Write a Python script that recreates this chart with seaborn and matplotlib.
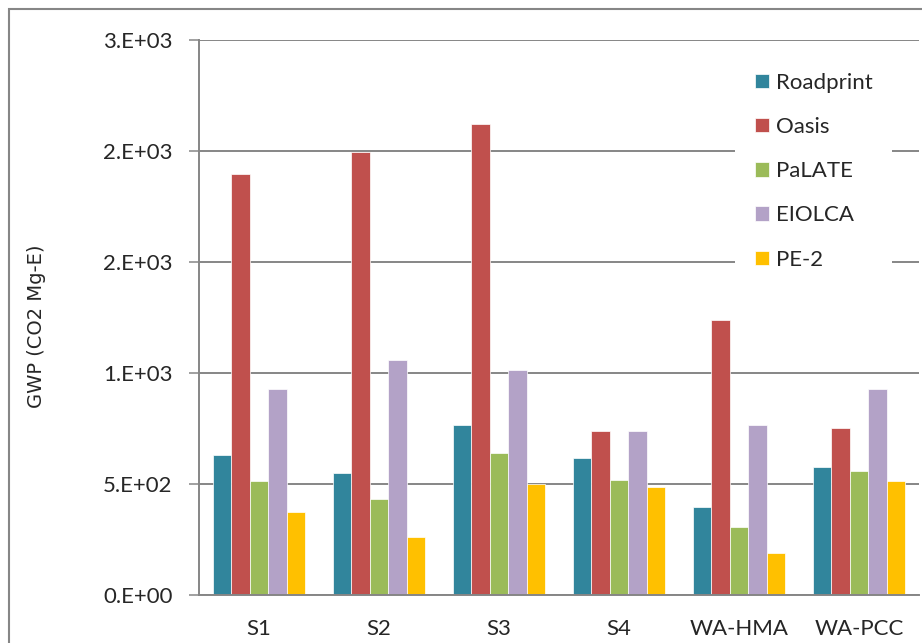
import pandas as pd
import seaborn as sns
import matplotlib
matplotlib.use("Agg")
import matplotlib.pyplot as plt
from matplotlib.patches import Rectangle

# scenarios on the x axis
scenarios = ["S1", "S2", "S3", "S4", "WA-HMA", "WA-PCC"]

# GWP per tool (CO2 Mg-E)
roadprint = [631, 550, 766, 617, 398, 577]
oasis = [1896, 1997, 2122, 737, 1240, 751]
palate = [514, 432, 638, 517, 306, 557]
eiolca = [928, 1059, 1012, 737, 764, 927]
pe2 = [374, 263, 500, 488, 189, 512]

tools = ["Roadprint", "Oasis", "PaLATE", "EIOLCA", "PE-2"]
tool_colors = ["#31859C", "#C0504D", "#9BBB59", "#B3A2C7", "#FFC000"]

ytick_values = [0, 500, 1000, 1500, 2000, 2500]
ytick_labels = ["0.E+00", "5.E+02", "1.E+03", "2.E+03", "2.E+03", "3.E+03"]

GRAY = "#868686"


def build_frame():
    rows = []
    for tool, values in zip(tools, [roadprint, oasis, palate, eiolca, pe2]):
        for sc, v in zip(scenarios, values):
            rows.append({"Scenario": sc, "Tool": tool, "GWP": v})
    return pd.DataFrame(rows)


def draw(df):
    sns.set_style("white")
    plt.rcParams["font.family"] = ["Lato", "DejaVu Sans"]

    fig = plt.figure(figsize=(9.22, 6.43), dpi=100)
    ax = fig.add_axes([199 / 922, 48 / 643, 720 / 922, 555 / 643])

    sns.barplot(data=df, x="Scenario", y="GWP", hue="Tool", order=scenarios,
                hue_order=tools, palette=tool_colors, saturation=1, width=0.77,
                edgecolor="white", linewidth=0.5, errorbar=None, ax=ax)

    ax.set_xlim(-0.5, len(scenarios) - 0.5)
    ax.set_ylim(0, 2500)
    ax.set_yticks(ytick_values)
    ax.set_yticklabels(ytick_labels)
    ax.yaxis.grid(True, color=GRAY, linewidth=1.4)
    ax.set_axisbelow(True)

    for side in ["top", "right"]:
        ax.spines[side].set_visible(False)
    for side in ["left", "bottom"]:
        ax.spines[side].set_color(GRAY)
        ax.spines[side].set_linewidth(1.4)

    ax.tick_params(axis="y", length=7, width=1.1, color=GRAY, pad=12,
                   labelsize=16, left=True)
    ax.tick_params(axis="x", length=0, pad=17, labelsize=16)

    ax.set_xlabel("")
    ax.set_ylabel("GWP (CO2 Mg-E)", fontsize=14, family="DejaVu Sans")
    ax.yaxis.set_label_coords(-0.212, 0.485)

    leg = ax.legend(loc="upper left", bbox_to_anchor=(0.729, 0.997),
                    frameon=True, fancybox=False, framealpha=1,
                    edgecolor="white", fontsize=16, handlelength=0.63,
                    handleheight=0.63, handletextpad=0.3, labelspacing=1.09,
                    borderpad=0.9)
    leg.get_frame().set_linewidth(0)

    # chart-area border, cut off at the right and bottom like the source image
    fig.patches.append(Rectangle((8.5 / 922, -0.1), 1.5, (643 - 8.5) / 643 + 0.1,
                                 transform=fig.transFigure, fill=False,
                                 edgecolor=GRAY, linewidth=1.5))

    fig.savefig("out.png", dpi=100)


if __name__ == "__main__":
    draw(build_frame())
